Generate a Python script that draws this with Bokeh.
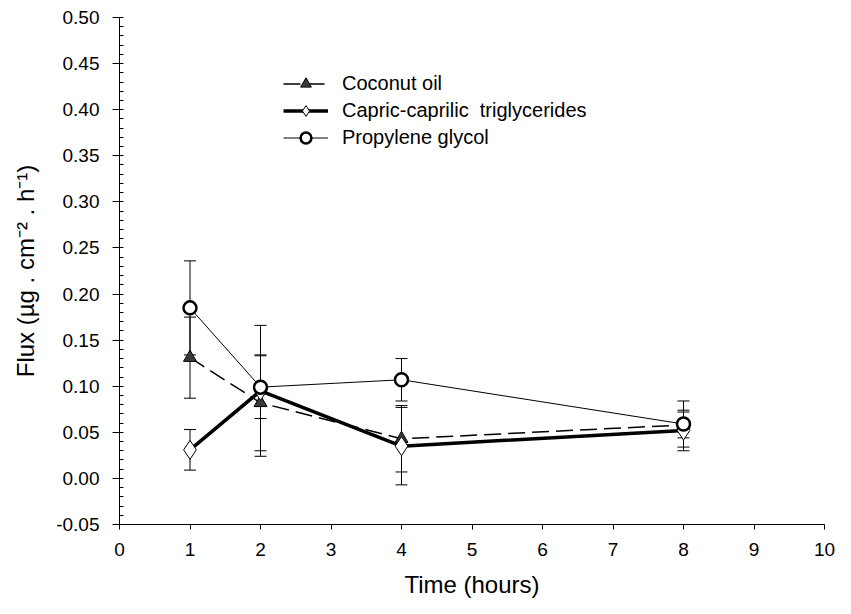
from bokeh.plotting import figure
from bokeh.models import (ColumnDataSource, Whisker, TeeHead, Range1d, FixedTicker,
                          Legend, LegendItem)
from bokeh.embed import file_html
from bokeh.resources import INLINE

# ---- data ----
time_h = [1, 2, 4, 8]

coconut = [0.131, 0.082, 0.043, 0.058]
coconut_err = [0.044, 0.052, 0.036, 0.014]

capric = [0.031, 0.095, 0.035, 0.052]
capric_err = [0.022, 0.071, 0.042, 0.022]

propylene = [0.185, 0.099, 0.107, 0.059]
propylene_err = [0.051, 0.034, 0.023, 0.025]

x_ticks = [0, 1, 2, 3, 4, 5, 6, 7, 8, 9, 10]
y_ticks = [-0.05, 0.00, 0.05, 0.10, 0.15, 0.20, 0.25, 0.30, 0.35, 0.40, 0.45, 0.50]
y_minor = [round(-0.05 + 0.01 * i, 2) for i in range(56)]

names = ["Coconut oil", "Capric-caprilic  triglycerides", "Propylene glycol"]

FONT = "Liberation Sans"

p = figure(width=835, height=598, output_backend="svg", toolbar_location=None,
           x_range=Range1d(0, 10), y_range=Range1d(-0.05, 0.50),
           frame_width=705, frame_height=507,
           min_border_left=119, min_border_right=11, min_border_top=17,
           min_border_bottom=74)
p.outline_line_color = None
p.xgrid.visible = False
p.ygrid.visible = False
p.background_fill_color = "white"

def src(vals, err):
    return ColumnDataSource(dict(x=time_h, y=vals,
                                 upper=[v + e for v, e in zip(vals, err)],
                                 lower=[v - e for v, e in zip(vals, err)]))

s_coc = src(coconut, coconut_err)
s_cap = src(capric, capric_err)
s_pg = src(propylene, propylene_err)

for s in (s_coc, s_cap, s_pg):
    w = Whisker(base="x", upper="upper", lower="lower", source=s,
                line_color="black", line_width=1,
                upper_head=TeeHead(size=12, line_color="black", line_width=1),
                lower_head=TeeHead(size=12, line_color="black", line_width=1))
    p.add_layout(w)

l_pg = p.line("x", "y", source=s_pg, line_color="black", line_width=1)
l_coc = p.line("x", "y", source=s_coc, line_color="black", line_width=1.5,
               line_dash="17 7")
l_cap = p.line("x", "y", source=s_cap, line_color="black", line_width=3.5)

m_coc = p.scatter("x", "y", source=s_coc, marker="triangle", size=13,
                  fill_color="#3a3a3a", line_color="black", line_width=1)
m_cap = p.scatter("x", "y", source=s_cap, marker="diamond", size=19,
                  fill_color="white", line_color="black", line_width=1)
m_pg = p.scatter("x", "y", source=s_pg, marker="circle", size=13,
                 fill_color="white", line_color="black", line_width=2.5)

legend = Legend(items=[
    LegendItem(label=names[0], renderers=[l_coc, m_coc]),
    LegendItem(label=names[1], renderers=[l_cap, m_cap]),
    LegendItem(label=names[2], renderers=[l_pg, m_pg]),
], location=(164, 373), orientation="vertical")
legend.glyph_width = 45
legend.glyph_height = 27
legend.label_height = 27
legend.spacing = 0
legend.padding = 0
legend.margin = 0
legend.label_standoff = 14
legend.label_text_font = FONT
legend.label_text_font_size = "20px"
legend.label_text_color = "black"
legend.background_fill_alpha = 0
legend.border_line_color = None
p.add_layout(legend, "center")

# axes
xa = p.xaxis[0]
xa.ticker = FixedTicker(ticks=x_ticks, minor_ticks=[])
xa.axis_label = "Time (hours)"
xa.major_tick_out = 5
xa.major_tick_in = 0
xa.minor_tick_out = 0
xa.minor_tick_in = 0
xa.major_label_standoff = 13
xa.axis_label_standoff = 12

ya = p.yaxis[0]
ya.ticker = FixedTicker(ticks=y_ticks, minor_ticks=y_minor)
ya.major_label_overrides = {t: f"{t:.2f}" for t in y_ticks}
ya.axis_label = "Flux (µg . cm⁻² . h⁻¹)"
ya.major_tick_out = 7
ya.major_tick_in = 0
ya.minor_tick_out = 0
ya.minor_tick_in = 4
ya.major_label_standoff = 13
ya.axis_label_standoff = 14

for ax in (xa, ya):
    ax.axis_line_color = "black"
    ax.axis_line_width = 1
    ax.major_tick_line_color = "black"
    ax.minor_tick_line_color = "black"
    ax.major_label_text_font = FONT
    ax.major_label_text_font_size = "19px"
    ax.major_label_text_color = "black"
    ax.axis_label_text_font = FONT
    ax.axis_label_text_font_size = "24px"
    ax.axis_label_text_font_style = "normal"
    ax.axis_label_text_color = "black"

open("out.html", "w").write(file_html(p, INLINE))
